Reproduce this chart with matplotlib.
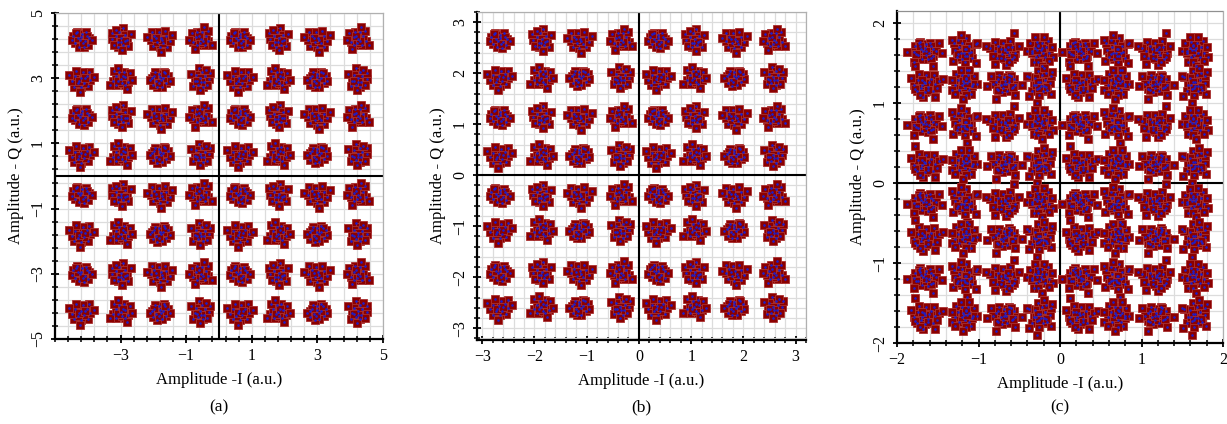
import numpy as np
import matplotlib
matplotlib.use('Agg')
import matplotlib.pyplot as plt
from matplotlib.ticker import FixedLocator

# cluster centres (I, Q)
a_i = [-4.2, -3.0, -1.8, -0.55, 0.63, 1.8, 3.0, 4.25]
a_q = [4.2, 2.97, 1.83, 0.66, -0.57, -1.77, -3.0, -4.17]
b_i = [-2.67, -1.87, -1.14, -0.34, 0.36, 1.06, 1.83, 2.59]
b_q = [2.65, 1.91, 1.14, 0.39, -0.39, -1.08, -1.91, -2.59]
c_i = [-1.66, -1.18, -0.68, -0.24, 0.24, 0.69, 1.18, 1.66]
c_q = [1.66, 1.25, 0.75, 0.25, -0.23, -0.67, -1.17, -1.65]

# hand-typed scatter shapes inside one cluster (in units of the cluster spread)
shape_0 = [(-1.2, 0.5), (-0.6, 1.1), (0.1, 0.8), (0.7, 1.0), (1.1, 0.2), (0.5, -0.3),
           (-0.2, -0.1), (-0.9, -0.6), (-0.3, -1.1), (0.4, -1.2), (1.0, -0.8), (-1.4, -0.2),
           (0.0, 0.3), (0.8, 0.5), (-0.5, 0.2), (0.2, -0.6), (1.5, -0.1), (-0.8, 0.9)]
shape_1 = [(-0.3, 1.6), (0.2, 1.0), (-0.7, 0.6), (0.6, 0.4), (-0.1, 0.1), (-0.9, -0.2),
           (0.4, -0.4), (1.2, 0.0), (-0.4, -0.8), (0.3, -1.1), (-1.1, -1.0), (0.9, -0.9),
           (-0.2, -1.6), (1.3, 0.9), (-1.5, 0.8), (0.0, -0.4), (0.7, 1.3), (-0.6, -0.3)]
shape_2 = [(-1.0, 1.0), (0.0, 1.2), (1.0, 1.1), (-1.3, 0.1), (-0.4, 0.5), (0.5, 0.6),
           (1.4, 0.3), (-0.8, -0.5), (0.1, -0.2), (0.9, -0.4), (-1.2, -1.1), (-0.2, -1.0),
           (0.7, -1.2), (1.8, -0.6), (-1.9, -0.3), (0.3, 0.2), (-0.5, -0.1), (0.2, 1.9)]
shape_3 = [(0.0, 0.0), (-0.6, 0.9), (0.6, 0.9), (-1.1, 0.3), (1.1, 0.4), (-0.7, -0.4),
           (0.7, -0.3), (-0.2, -1.0), (0.5, -1.1), (-1.0, -1.2), (1.3, -0.9), (0.2, 0.6),
           (-0.3, 0.3), (0.9, 1.5), (-1.6, 0.9), (1.7, 0.1), (-0.4, -1.7), (0.3, -0.5)]
shapes = [shape_0, shape_1, shape_2, shape_3]

RED = '#8b0000'
BLUE = '#1e1ec8'
SERIF = ['Liberation Serif', 'DejaVu Serif']


def cluster_points(centres_i, centres_q, spread, doubled=False):
    xs, ys = [], []
    for r, q0 in enumerate(centres_q):
        for c, i0 in enumerate(centres_i):
            k = (c + 2 * r) % 4
            sx = 1 if (c + r) % 2 == 0 else -1
            sy = 1 if (c // 2 + r) % 2 == 0 else -1
            pts = list(shapes[k])
            if doubled:
                # noisier panel: a sparser second shape laid over the first, transposed
                pts += [(b * 1.4, a * 1.4) for a, b in shapes[(k + 1) % 4][::2]]
            for dx, dy in pts:
                xs.append(i0 + sx * dx * spread)
                ys.append(q0 + sy * dy * spread)
    return np.array(xs), np.array(ys)


def style_axes(ax, xlim, ylim, xticks, yticks, minor):
    ax.set_xlim(xlim)
    ax.set_ylim(ylim)
    ax.set_xticks(xticks)
    ax.set_yticks(yticks)
    ax.xaxis.set_minor_locator(FixedLocator(minor))
    ax.yaxis.set_minor_locator(FixedLocator(minor))
    ax.grid(True, which='both', color='#dcdcdc', lw=0.9, zorder=0)
    ax.set_axisbelow(True)
    ax.axhline(0, color='black', lw=1.5, zorder=1)
    ax.axvline(0, color='black', lw=1.5, zorder=1)
    for s in ['left', 'bottom']:
        ax.spines[s].set_linewidth(1.6)
    for s in ['top', 'right']:
        ax.spines[s].set_color('#b0b0b0')
        ax.spines[s].set_linewidth(0.9)
    ax.tick_params(which='major', direction='inout', length=6, width=1.3,
                   labelsize=11.5, top=False, right=False)
    ax.tick_params(which='minor', direction='inout', length=4, width=1.1,
                   top=False, right=False)
    for lab in ax.get_yticklabels():
        lab.set_rotation(90)
        lab.set_va('center')
    for lab in ax.get_xticklabels() + ax.get_yticklabels():
        lab.set_family(SERIF)
    ax.set_xlabel('Amplitude -I (a.u.)', family=SERIF, fontsize=12, labelpad=6)
    ax.set_ylabel('Amplitude - Q (a.u.)', family=SERIF, fontsize=12, labelpad=4)


def main():
    fig = plt.figure(figsize=(12.27, 4.24), dpi=100)
    ax_a = fig.add_axes([0.0448, 0.2005, 0.2673, 0.7689])
    ax_b = fig.add_axes([0.3888, 0.1981, 0.2681, 0.7736])
    ax_c = fig.add_axes([0.7311, 0.1910, 0.2657, 0.7830])

    panels = [
        (ax_a, cluster_points(a_i, a_q, 0.21), 5.2, '(a)'),
        (ax_b, cluster_points(b_i, b_q, 0.13), 5.2, '(b)'),
        (ax_c, cluster_points(c_i, c_q, 0.095, doubled=True), 6.0, '(c)'),
    ]
    for ax, (x, y), ms, cap in panels:
        ax.plot(x, y, 's', ms=ms, mfc=RED, mec='#a83030', mew=0.6, zorder=3)
        ax.plot(x, y, '.', ms=1.8, color=BLUE, zorder=4)
        pos = ax.get_position()
        fig.text(pos.x0 + pos.width / 2, 0.038, cap, ha='center', va='center',
                 family=SERIF, fontsize=12.5)

    style_axes(ax_a, (-5, 5), (-5, 5), [-3, -1, 1, 3, 5], [-5, -3, -1, 1, 3, 5],
               np.arange(-5, 5.01, 0.4))
    style_axes(ax_b, (-3.1, 3.2), (-3.23, 3.2), [-3, -2, -1, 0, 1, 2, 3],
               [-3, -2, -1, 0, 1, 2, 3], np.arange(-3.2, 3.21, 0.2))
    style_axes(ax_c, (-2, 2), (-2, 2.15), [-2, -1, 0, 1, 2], [-2, -1, 0, 1, 2],
               np.arange(-2, 2.21, 0.2))
    ax_c.spines['top'].set_linestyle((0, (2, 1)))
    ax_c.spines['top'].set_color('#909090')

    fig.savefig('out.png', dpi=100)


if __name__ == '__main__':
    main()
